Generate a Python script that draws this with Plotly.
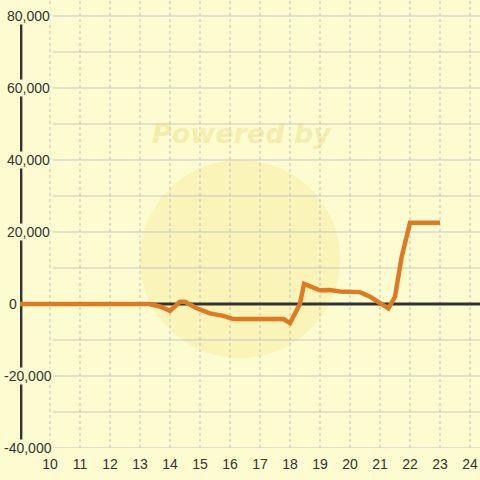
import plotly.graph_objects as go

# data
x_vals = [9.0, 13.3, 13.67, 14.0, 14.33, 14.5, 14.89, 15.33, 15.78, 16.11, 17.78, 18.0, 18.33, 18.47,
          19.0, 19.33, 19.67, 20.0, 20.33, 20.67, 21.0, 21.28, 21.5, 21.72, 22.0, 23.0]
y_vals = [0, 0, -700, -1900, 600, 600, -1200, -2600, -3300, -4200, -4200, -5300, 0, 5600,
          3800, 3900, 3500, 3400, 3300, 2000, 300, -1200, 2000, 13000, 22600, 22600]
x_ticks = list(range(10, 25))
y_ticks = list(range(-40000, 80001, 20000))
y_grid = list(range(-40000, 80001, 10000))

BG = "#FCFCD0"
XMIN, XMAX = 9.0, 9.0 + 460 / 30
YMIN, YMAX = -40000, 80000 + 16 / 3.6 * 1000

fig = go.Figure()
fig.add_trace(go.Scatter(x=x_vals, y=y_vals, mode="lines",
                         line=dict(color="#E07A22", width=4.5), hoverinfo="skip",
                         showlegend=False))

shapes = []
# watermark circle
shapes.append(dict(type="circle", xref="x", yref="y", x0=13.0, x1=19.67, y0=-15000, y1=40000,
                   fillcolor="rgba(247,228,140,0.35)", line=dict(width=0), layer="below"))
# horizontal gridlines
for v in y_grid:
    shapes.append(dict(type="line", xref="x", yref="y", x0=10.1, x1=XMAX, y0=v, y1=v,
                       line=dict(color="#C8C8C8", width=1), layer="below"))
# vertical dashed gridlines
for t in x_ticks:
    shapes.append(dict(type="line", xref="x", yref="y", x0=t, x1=t, y0=YMIN, y1=YMAX,
                       line=dict(color="#C0C0C0", width=1, dash="dot"), layer="below"))
# y axis line
shapes.append(dict(type="line", xref="x", yref="y", x0=9.03, x1=9.03, y0=-38000, y1=78000,
                   line=dict(color="#333333", width=3), layer="below"))
# zero line
shapes.append(dict(type="line", xref="x", yref="y", x0=XMIN, x1=XMAX, y0=0, y1=0,
                   line=dict(color="#333333", width=3), layer="below"))

annotations = []
annotations.append(dict(x=16.4, y=47300, xref="x", yref="y", text="<b><i>Powered by</i></b>",
                        showarrow=False, font=dict(family="DejaVu Sans", size=27,
                                                   color="rgba(235,218,125,0.45)")))
for v in y_ticks:
    left_px = 8 if v == 0 else (3 if v < 0 else 6)
    annotations.append(dict(x=(left_px - 20) / 460, y=v, xref="paper", yref="y", xanchor="left",
                            yanchor="middle", text=f"{v:,}", showarrow=False, bgcolor=BG,
                            borderpad=0,
                            font=dict(family="Liberation Sans, Arial", size=14, color="#333333")))

fig.update_layout(
    width=480, height=480,
    margin=dict(l=20, r=0, t=0, b=32),
    paper_bgcolor=BG, plot_bgcolor=BG,
    shapes=shapes, annotations=annotations,
    xaxis=dict(range=[XMIN, XMAX], tickvals=x_ticks, ticktext=[str(t) for t in x_ticks],
               showgrid=False, zeroline=False, showline=False, ticks="",
               ticklabelstandoff=6, automargin=False,
               tickfont=dict(family="Liberation Sans, Arial", size=14, color="#333333")),
    yaxis=dict(range=[YMIN, YMAX], showgrid=False, zeroline=False, showline=False,
               showticklabels=False, ticks="", automargin=False),
)
fig.write_html("out.html", config={"displayModeBar": False},
               post_script="document.body.style.margin='0px';document.body.style.padding='0px';")
